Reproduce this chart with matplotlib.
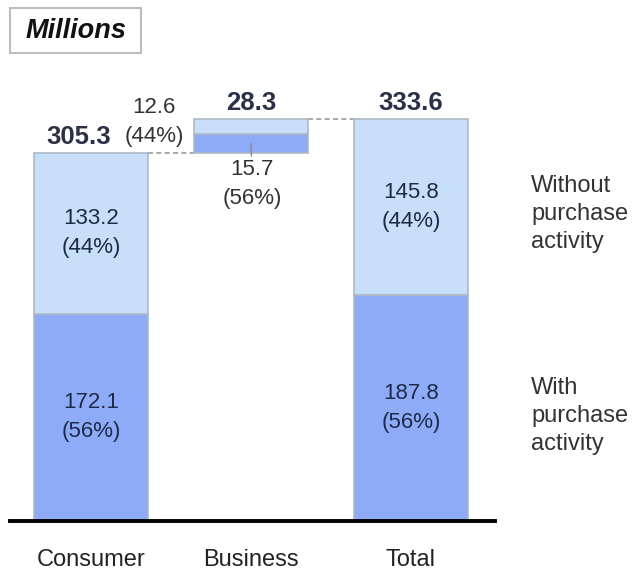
import matplotlib
matplotlib.use("Agg")
import matplotlib.pyplot as plt
from matplotlib.patches import Rectangle

plt.rcParams['font.family'] = ['Liberation Sans', 'DejaVu Sans']

categories = ["Consumer", "Business", "Total"]
with_purchase = [172.1, 15.7, 187.8]
without_purchase = [133.2, 12.6, 145.8]
with_pct = ["56%", "56%", "56%"]
without_pct = ["44%", "44%", "44%"]
totals = ["305.3", "28.3", "333.6"]
bases = [0.0, 305.3, 0.0]
legend_labels = ["Without\npurchase\nactivity", "With\npurchase\nactivity"]
unit_label = "Millions"

dark = "#8EABF8"
light = "#C7DFF9"
edge = "#AEB8C6"
inner_txt = "#1E2A48"
outer_txt = "#333333"
bold_txt = "#2A3046"

W, H = 633, 575
fig = plt.figure(figsize=(W / 100, H / 100), dpi=100)
ax = fig.add_axes([10 / W, (H - 521) / H, 485 / W, 458 / H])

x = list(range(len(categories)))
bw = 0.71
ax.bar(x, with_purchase, bw, bottom=bases, color=dark, edgecolor=edge, linewidth=1.2, zorder=2)
tops_dark = [b + v for b, v in zip(bases, with_purchase)]
ax.bar(x, without_purchase, bw, bottom=tops_dark, color=light, edgecolor=edge, linewidth=1.2, zorder=2)
tops = [t + v for t, v in zip(tops_dark, without_purchase)]

ax.set_xlim(-0.506, 2.525)
ax.set_ylim(0, 380)
for s in ["top", "right", "left"]:
    ax.spines[s].set_visible(False)
ax.spines["bottom"].set_linewidth(2.8)
ax.spines["bottom"].set_color("black")
ax.set_yticks([])
ax.set_xticks(x)
ax.set_xticklabels(categories, fontsize=17, color="#222222")
ax.tick_params(axis="x", length=0, pad=20)

# connectors
ax.plot([0 + bw / 2, 1 - bw / 2], [tops[0], tops[0]], ls=(0, (3, 2)), color="#9A9A9A", lw=1.2, zorder=1)
ax.plot([1 + bw / 2, 2 - bw / 2], [tops[1], tops[1]], ls=(0, (3, 2)), color="#9A9A9A", lw=1.2, zorder=1)

# inside labels for Consumer and Total
for i in (0, 2):
    ax.text(i, bases[i] + with_purchase[i] / 2, f"{with_purchase[i]}\n({with_pct[i]})",
            ha="center", va="center", fontsize=16, color=inner_txt, linespacing=1.5, zorder=3)
    ax.text(i, tops_dark[i] + without_purchase[i] / 2, f"{without_purchase[i]}\n({without_pct[i]})",
            ha="center", va="center", fontsize=16, color=inner_txt, linespacing=1.5, zorder=3)

# Business outside labels
ax.annotate(f"{without_purchase[1]}\n({without_pct[1]})",
            xy=(1 - bw / 2, tops_dark[1] + without_purchase[1] / 2),
            xytext=(-29, 3), textcoords="offset points",
            ha="center", va="center", fontsize=16, color=outer_txt, linespacing=1.5)
ax.annotate(f"{with_purchase[1]}\n({with_pct[1]})",
            xy=(1, bases[1] + with_purchase[1] / 2),
            xytext=(1, -11), textcoords="offset points",
            ha="center", va="top", fontsize=16, color=outer_txt, linespacing=1.5,
            arrowprops=dict(arrowstyle="-", color="#8A8A8A", lw=1, shrinkA=0, shrinkB=0))

# totals
tot_offsets = [(-9, 3), (0, 3), (0, 3)]
for i in x:
    ax.annotate(totals[i], xy=(i, tops[i]), xytext=tot_offsets[i], textcoords="offset points",
                ha="center", va="bottom", fontsize=18.5, fontweight="bold", color=bold_txt)

# legend text
ax.text(2 + 0.75, tops_dark[2] + without_purchase[2] / 2 - 6, legend_labels[0],
        ha="left", va="center", fontsize=17, color="#333333", linespacing=1.35, clip_on=False)
ax.text(2 + 0.75, bases[2] + with_purchase[2] / 2 - 6.5, legend_labels[1],
        ha="left", va="center", fontsize=17, color="#333333", linespacing=1.35, clip_on=False)

# Millions box
fig.patches.append(Rectangle((10 / W, 1 - 53 / H), 131 / W, 45 / H, transform=fig.transFigure,
                             facecolor="white", edgecolor="#BDBDBD", lw=1.5))
fig.text(76 / W, 1 - 31 / H, unit_label, ha="center", va="center", fontsize=19.5,
         fontweight="bold", fontstyle="italic", color="#111111")

fig.savefig("out.png", dpi=100)
